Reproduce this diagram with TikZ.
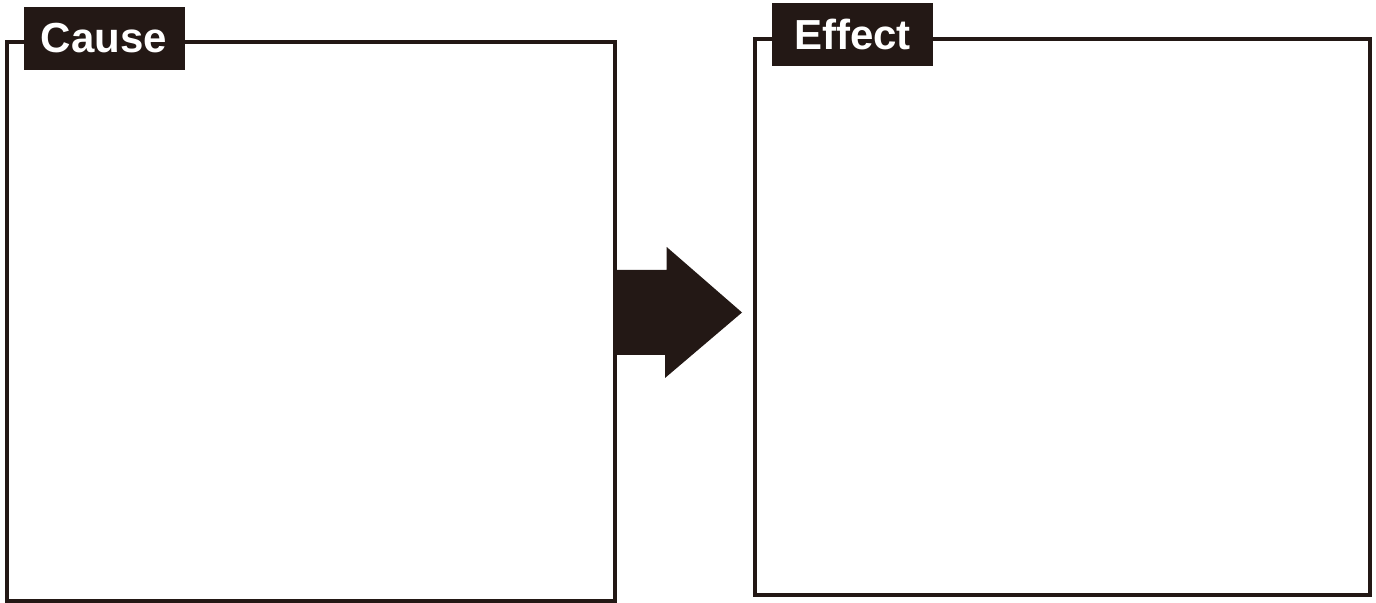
\documentclass[tikz,border=0pt]{standalone}
\usepackage{fontspec}
\setsansfont{Liberation Sans}
\definecolor{inkdark}{HTML}{231815}
\begin{document}
\begin{tikzpicture}[>=stealth, font=\sffamily\bfseries, x=0.5pt, y=-0.5pt]
        \tikzset{panel/.style={draw=inkdark, line width=1.7pt, fill=white},
                 tag/.style={fill=inkdark, text=white, minimum width=80.5pt, minimum height=31.5pt, inner sep=0pt, font=\sffamily\bfseries\fontsize{21}{25}\selectfont}}
        \useasboundingbox (0,0) rectangle (1376,603);
        \node[panel, minimum width=304pt, minimum height=279.5pt] (cause) at (311,321.5) {};
        \node[panel, minimum width=307.5pt, minimum height=278pt] (effect) at (1062.5,317) {};
        \node[tag] (causetag) at (104,38.5) {Cause};
        \node[tag] (effecttag) at (852.5,34.5) {Effect};

        \coordinate (tail) at (cause.east |- 0,312.5);
        \fill[inkdark] (tail) ++(0,-42.5) -- ++(50,0) -- ++(0,-23) -- (742,312.5) -- (665,378) -- ++(0,-23) -- ++(-50,0) -- cycle;
    \end{tikzpicture}
\end{document}
